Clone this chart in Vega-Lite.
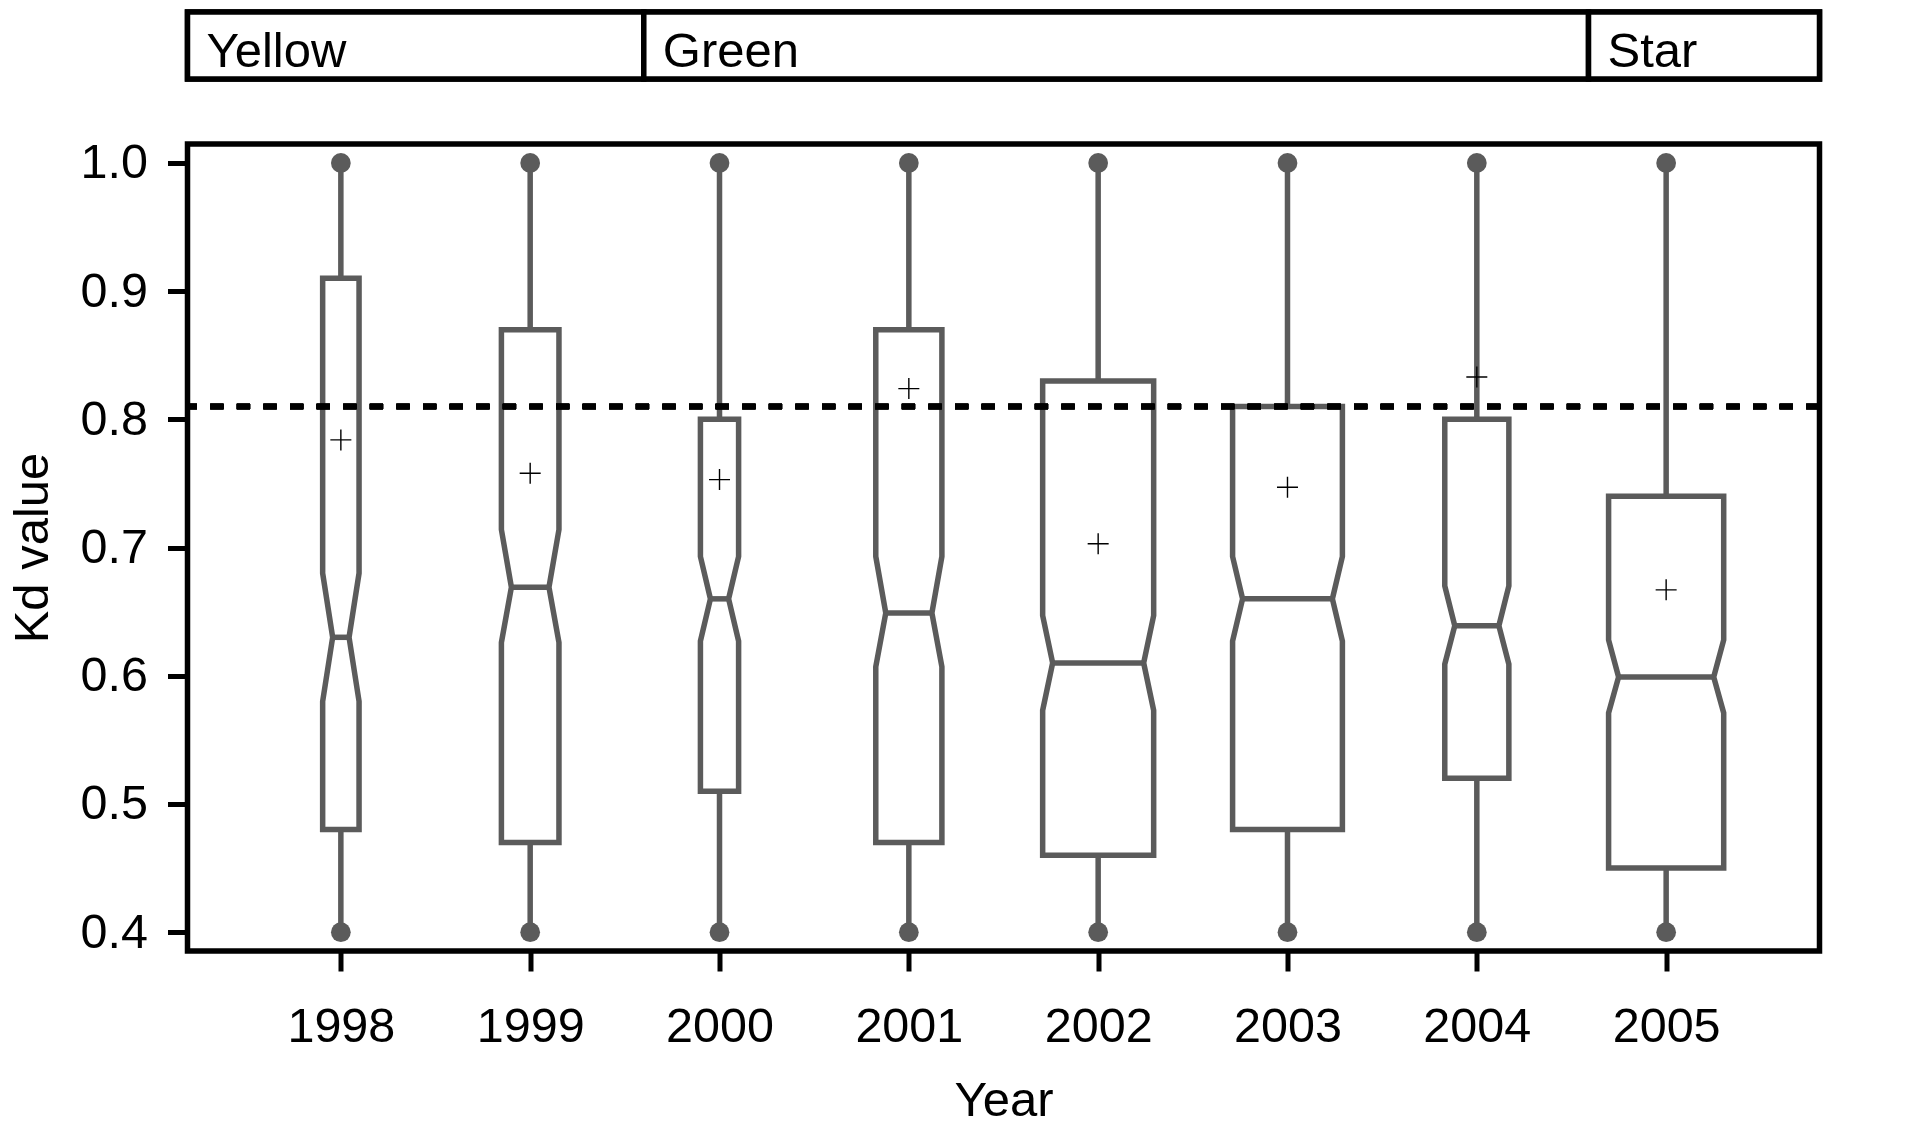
{
  "$schema": "https://vega.github.io/schema/vega-lite/v6.json",
  "padding": {"left": 4.5, "top": 6, "right": 10, "bottom": 0},
  "bounds": "flush",
  "spacing": 65,
  "background": "white",
  "datasets": {
    "kd": [
      {"year": 1998, "lo": 0.40, "q1": 0.48, "nlo": 0.580, "med": 0.630, "nhi": 0.680, "q3": 0.91, "hi": 1.00, "mean": 0.784, "n": 10},
      {"year": 1999, "lo": 0.40, "q1": 0.47, "nlo": 0.626, "med": 0.669, "nhi": 0.714, "q3": 0.87, "hi": 1.00, "mean": 0.758, "n": 25},
      {"year": 2000, "lo": 0.40, "q1": 0.51, "nlo": 0.627, "med": 0.660, "nhi": 0.693, "q3": 0.80, "hi": 1.00, "mean": 0.753, "n": 11},
      {"year": 2001, "lo": 0.40, "q1": 0.47, "nlo": 0.607, "med": 0.649, "nhi": 0.693, "q3": 0.87, "hi": 1.00, "mean": 0.824, "n": 33},
      {"year": 2002, "lo": 0.40, "q1": 0.46, "nlo": 0.573, "med": 0.610, "nhi": 0.647, "q3": 0.83, "hi": 1.00, "mean": 0.703, "n": 93},
      {"year": 2003, "lo": 0.40, "q1": 0.48, "nlo": 0.627, "med": 0.660, "nhi": 0.693, "q3": 0.81, "hi": 1.00, "mean": 0.747, "n": 91},
      {"year": 2004, "lo": 0.40, "q1": 0.52, "nlo": 0.609, "med": 0.639, "nhi": 0.670, "q3": 0.80, "hi": 1.00, "mean": 0.833, "n": 31},
      {"year": 2005, "lo": 0.40, "q1": 0.45, "nlo": 0.571, "med": 0.599, "nhi": 0.628, "q3": 0.74, "hi": 1.00, "mean": 0.667, "n": 100}
    ],
    "strip": [
      {"label": "Yellow", "start": 1997.19, "end": 1999.6},
      {"label": "Green", "start": 1999.6, "end": 2004.59},
      {"label": "Star", "start": 2004.59, "end": 2005.81}
    ]
  },
  "vconcat": [
    {
      "width": 1632,
      "height": 67,
      "data": {"name": "strip"},
      "layer": [
        {
          "mark": {"type": "rect", "fill": "white", "stroke": "black", "strokeWidth": 5.5},
          "encoding": {
            "x": {"field": "start", "type": "quantitative", "scale": {"domain": [1997.19, 2005.81], "nice": false, "zero": false}, "axis": null},
            "x2": {"field": "end"}
          }
        },
        {
          "mark": {"type": "text", "align": "left", "baseline": "alphabetic", "dx": 19, "dy": 21.5, "fontSize": 49, "font": "Liberation Sans", "color": "black"},
          "encoding": {
            "x": {"field": "start", "type": "quantitative", "axis": null},
            "text": {"field": "label", "type": "nominal"}
          }
        }
      ]
    },
    {
      "width": 1632,
      "height": 807,
      "data": {"name": "kd"},
      "layer": [
        {
          "mark": {"type": "rule", "stroke": "#5b5b5b", "strokeWidth": 5.5},
          "encoding": {
            "x": {"field": "year", "type": "quantitative", "title": "Year",
                  "scale": {"domain": [1997.19, 2005.81], "nice": false, "zero": false},
                  "axis": {"values": [1998, 1999, 2000, 2001, 2002, 2003, 2004, 2005], "format": "d"}},
            "y": {"field": "lo", "type": "quantitative", "title": "Kd value",
                  "scale": {"domain": [0.3853, 1.0148], "nice": false, "zero": false},
                  "axis": {"values": [0.4, 0.5, 0.6, 0.7, 0.8, 0.9, 1.0], "format": ".1f"}},
            "y2": {"field": "hi"}
          }
        },
        {
          "transform": [
            {"fold": ["q1", "nlo", "med", "nhi", "q3"], "as": ["k", "v"]},
            {"calculate": "0.0304*sqrt(datum.n)", "as": "hw"},
            {"calculate": "datum.k === 'med' ? 0.0528 : 0", "as": "ins"},
            {"calculate": "datum.year - datum.hw + datum.ins", "as": "left"},
            {"calculate": "datum.year + datum.hw - datum.ins", "as": "right"}
          ],
          "layer": [
            {
              "mark": {"type": "area", "orient": "horizontal", "fill": "white", "fillOpacity": 1, "stroke": "#5b5b5b", "strokeWidth": 5.5, "strokeJoin": "miter"},
              "encoding": {
                "y": {"field": "v", "type": "quantitative", "title": "Kd value"},
                "x": {"field": "left", "type": "quantitative", "title": "Year"},
                "x2": {"field": "right"},
                "detail": {"field": "year", "type": "nominal"}
              }
            },
            {
              "transform": [{"filter": "datum.k === 'med'"}],
              "mark": {"type": "rule", "stroke": "#5b5b5b", "strokeWidth": 5.5},
              "encoding": {
                "y": {"field": "v", "type": "quantitative", "title": "Kd value"},
                "x": {"field": "left", "type": "quantitative", "title": "Year"},
                "x2": {"field": "right"}
              }
            }
          ]
        },
        {
          "mark": {"type": "point", "shape": "circle", "filled": true, "size": 390, "color": "#5b5b5b", "opacity": 1, "strokeWidth": 0},
          "encoding": {
            "x": {"field": "year", "type": "quantitative", "title": "Year"},
            "y": {"field": "lo", "type": "quantitative", "title": "Kd value"}
          }
        },
        {
          "mark": {"type": "point", "shape": "circle", "filled": true, "size": 390, "color": "#5b5b5b", "opacity": 1, "strokeWidth": 0},
          "encoding": {
            "x": {"field": "year", "type": "quantitative", "title": "Year"},
            "y": {"field": "hi", "type": "quantitative", "title": "Kd value"}
          }
        },
        {
          "mark": {"type": "point", "shape": "M -1 0 L 1 0 M 0 -1 L 0 1", "filled": false, "size": 441, "stroke": "black", "strokeWidth": 1.4, "opacity": 1},
          "encoding": {
            "x": {"field": "year", "type": "quantitative", "title": "Year"},
            "y": {"field": "mean", "type": "quantitative", "title": "Kd value"}
          }
        },
        {
          "mark": {"type": "rule", "stroke": "black", "strokeWidth": 5.5, "strokeDash": [13.3, 13.3]},
          "encoding": {
            "y": {"datum": 0.81, "type": "quantitative", "title": "Kd value"}
          }
        }
      ]
    }
  ],
  "config": {
    "font": "Liberation Sans",
    "view": {"stroke": "black", "strokeWidth": 5.5},
    "axisX": {
      "tickSize": 20, "tickWidth": 5, "tickColor": "black",
      "labelFontSize": 48.5, "labelColor": "black", "labelPadding": 32, "labelFont": "Liberation Sans",
      "labelFlush": false, "labelOverlap": false,
      "domain": false, "grid": false,
      "titleFontSize": 49, "titleFontWeight": "normal", "titleColor": "black", "titlePadding": 26, "titleFont": "Liberation Sans"
    },
    "axisY": {
      "tickSize": 20, "tickWidth": 5, "tickColor": "black",
      "labelFontSize": 48.5, "labelColor": "black", "labelPadding": 20, "labelFont": "Liberation Sans",
      "labelFlush": false, "labelOverlap": false,
      "domain": false, "grid": false,
      "titleFontSize": 49, "titleFontWeight": "normal", "titleColor": "black", "titlePadding": 23, "titleFont": "Liberation Sans"
    }
  }
}
